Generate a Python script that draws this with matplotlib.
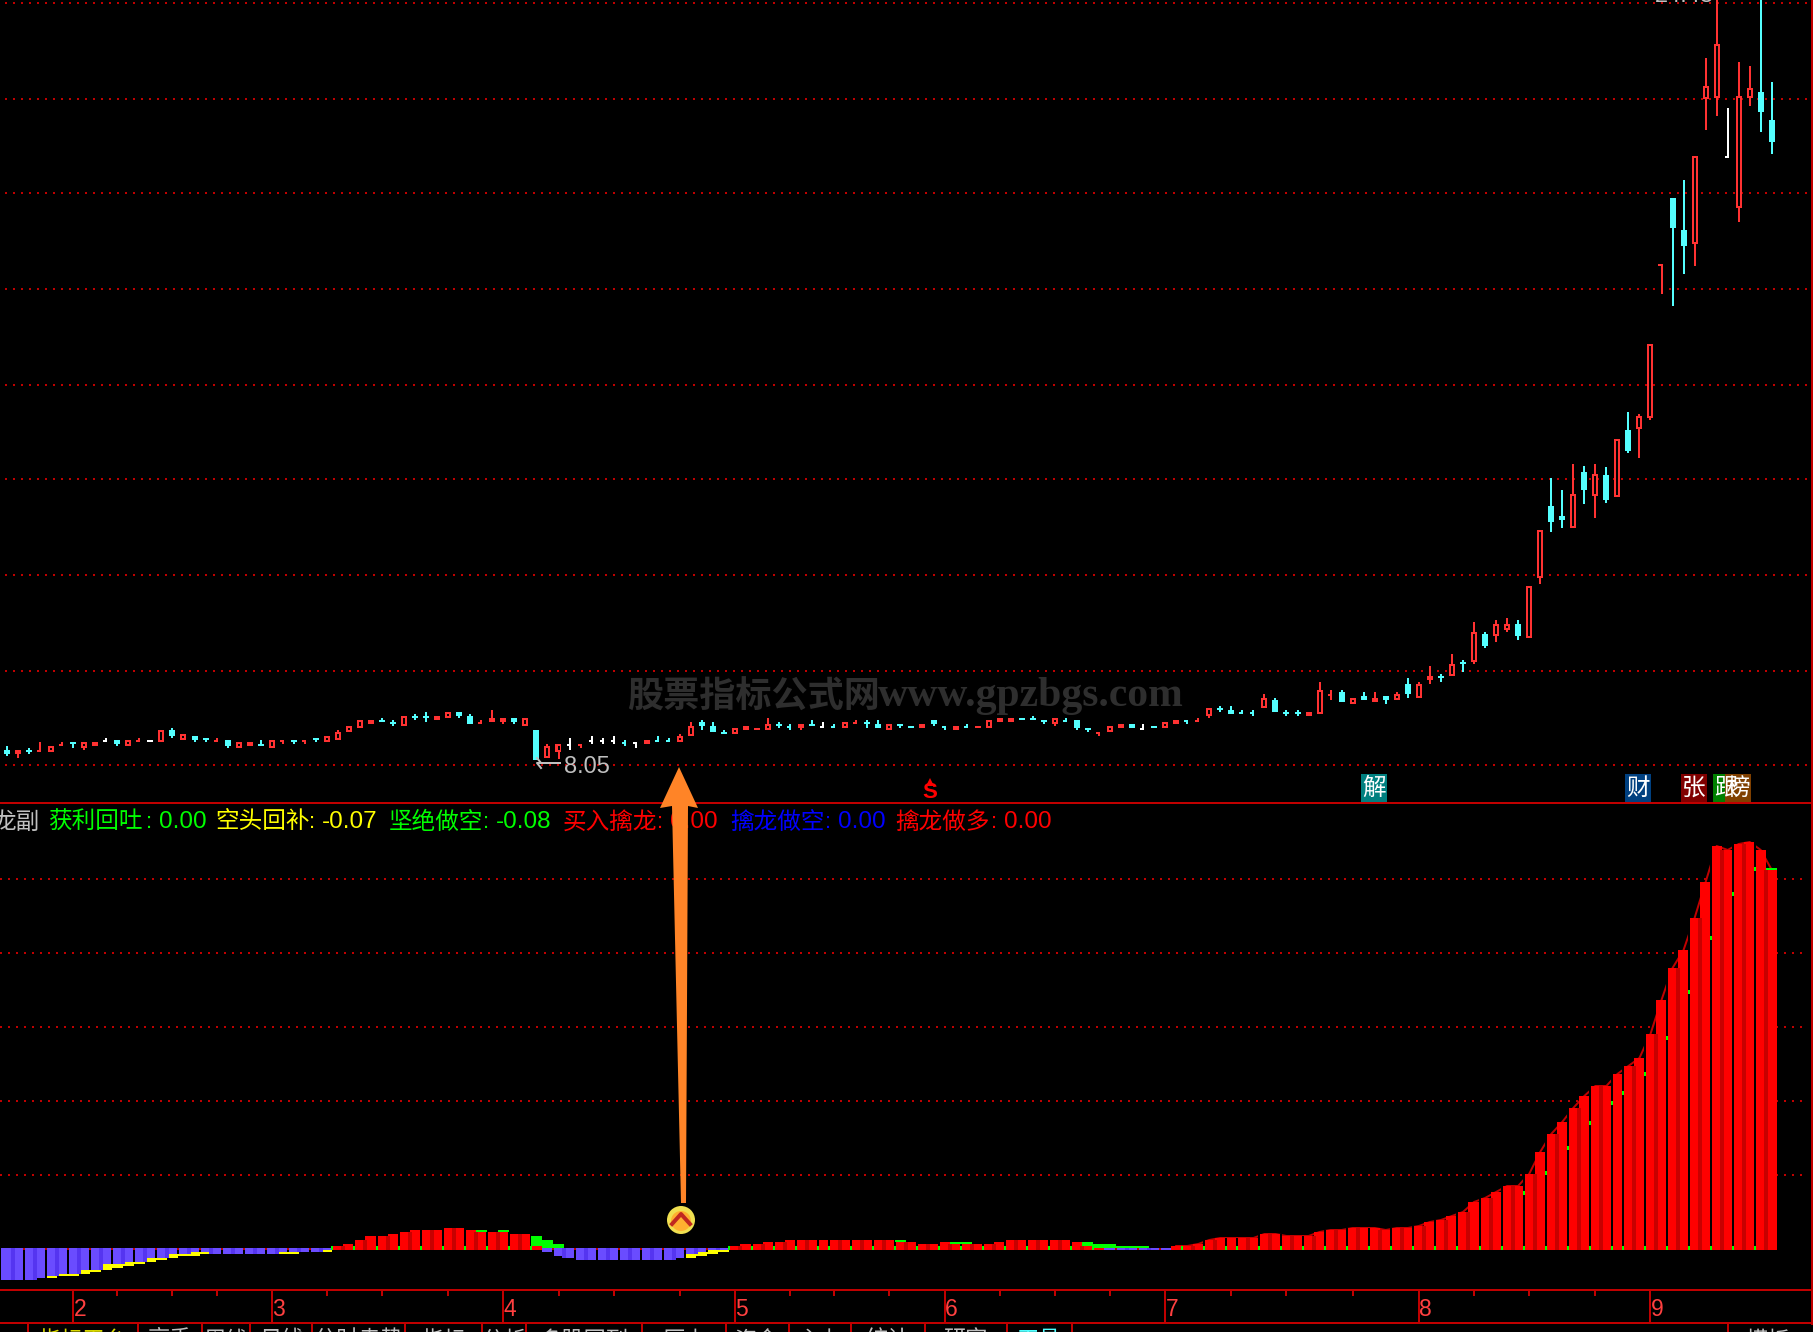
import matplotlib
matplotlib.use("Agg")
import matplotlib.pyplot as plt
from matplotlib.patches import Circle, Polygon, Rectangle

W, H = 1813, 1332
PX = 0.72  # one pixel in points at dpi 100

CJK = ["Noto Sans CJK SC", "DejaVu Sans"]
RED = "#ff3232"
CYAN = "#54ffff"
LINE_RED = "#c00000"

# daily candles
opens = [
    8.25, 8.17, 8.25, 8.21, 8.21, 8.33, 8.41, 8.29, 8.33, 8.45,
    8.45, 8.33, 8.41, 8.45, 8.41, 8.65, 8.45, 8.53, 8.49, 8.41,
    8.45, 8.29, 8.33, 8.37, 8.29, 8.41, 8.45, 8.41, 8.49, 8.41,
    8.45, 8.61, 8.69, 8.77, 8.85, 8.81, 8.73, 8.93, 8.93, 8.85,
    8.89, 9.01, 8.93, 8.77, 8.81, 8.81, 8.89, 8.73, 8.65, 8.09,
    8.21, 8.37, 8.33, 8.45, 8.45, 8.45, 8.41, 8.41, 8.37, 8.45,
    8.45, 8.41, 8.53, 8.81, 8.73, 8.61, 8.57, 8.65, 8.65, 8.65,
    8.77, 8.73, 8.69, 8.77, 8.73, 8.73, 8.69, 8.77, 8.81, 8.77,
    8.65, 8.77, 8.73, 8.69, 8.85, 8.73, 8.65, 8.73, 8.69, 8.69,
    8.81, 8.81, 8.89, 8.89, 8.85, 8.77, 8.85, 8.85, 8.69, 8.57,
    8.61, 8.69, 8.77, 8.69, 8.73, 8.69, 8.77, 8.85, 8.81, 8.93,
    9.09, 9.05, 9.01, 9.01, 9.09, 9.25, 9.01, 9.01, 8.93, 8.97,
    9.33, 9.41, 9.17, 9.33, 9.21, 9.33, 9.25, 9.57, 9.29, 9.65,
    9.73, 9.73, 10.01, 10.01, 10.57, 10.53, 10.65, 10.77, 10.49, 11.69,
    13.13, 12.93, 12.69, 13.81, 13.33, 13.75, 13.31, 14.65, 14.67, 14.89,
    17.93, 19.29, 18.65, 18.37, 21.27, 21.29, 20.13, 19.09, 21.29, 21.41,
    20.85,
]
closes = [
    8.17, 8.25, 8.21, 8.25, 8.33, 8.37, 8.37, 8.41, 8.41, 8.45,
    8.37, 8.45, 8.45, 8.45, 8.65, 8.53, 8.57, 8.45, 8.45, 8.45,
    8.33, 8.41, 8.41, 8.33, 8.45, 8.45, 8.41, 8.45, 8.45, 8.53,
    8.61, 8.73, 8.85, 8.85, 8.81, 8.77, 8.93, 8.89, 8.89, 8.93,
    9.01, 8.93, 8.77, 8.81, 8.89, 8.89, 8.81, 8.89, 8.05, 8.33,
    8.37, 8.37, 8.37, 8.45, 8.45, 8.45, 8.37, 8.41, 8.45, 8.41,
    8.41, 8.53, 8.73, 8.73, 8.61, 8.57, 8.69, 8.73, 8.69, 8.77,
    8.73, 8.69, 8.77, 8.73, 8.73, 8.69, 8.81, 8.81, 8.77, 8.69,
    8.77, 8.73, 8.69, 8.77, 8.77, 8.69, 8.73, 8.69, 8.73, 8.85,
    8.89, 8.89, 8.85, 8.85, 8.81, 8.89, 8.81, 8.69, 8.65, 8.61,
    8.73, 8.77, 8.69, 8.69, 8.69, 8.81, 8.85, 8.81, 8.85, 9.09,
    9.05, 8.97, 8.97, 8.97, 9.29, 9.01, 8.97, 8.97, 9.01, 9.45,
    9.37, 9.21, 9.29, 9.25, 9.29, 9.25, 9.37, 9.37, 9.57, 9.73,
    9.69, 9.97, 9.97, 10.61, 10.33, 10.77, 10.77, 10.53, 11.53, 12.65,
    12.81, 12.85, 13.37, 13.45, 13.77, 13.25, 14.47, 14.23, 14.93, 16.37,
    17.97, 18.69, 18.33, 20.13, 21.53, 22.37, 20.13, 21.33, 21.49, 21.01,
    20.41,
]
highs = [
    8.33, 8.25, 8.29, 8.41, 8.33, 8.41, 8.41, 8.41, 8.41, 8.49,
    8.45, 8.45, 8.49, 8.45, 8.65, 8.69, 8.57, 8.53, 8.49, 8.49,
    8.45, 8.41, 8.41, 8.45, 8.45, 8.45, 8.45, 8.45, 8.49, 8.53,
    8.65, 8.73, 8.85, 8.85, 8.89, 8.85, 8.93, 8.97, 9.01, 8.93,
    9.01, 9.01, 8.97, 8.85, 9.05, 8.89, 8.89, 8.89, 8.65, 8.37,
    8.37, 8.49, 8.37, 8.53, 8.49, 8.53, 8.45, 8.41, 8.45, 8.53,
    8.49, 8.57, 8.81, 8.85, 8.81, 8.65, 8.69, 8.73, 8.69, 8.89,
    8.81, 8.77, 8.77, 8.85, 8.81, 8.77, 8.81, 8.85, 8.85, 8.85,
    8.77, 8.77, 8.73, 8.77, 8.85, 8.73, 8.73, 8.77, 8.73, 8.85,
    8.89, 8.89, 8.89, 8.93, 8.85, 8.89, 8.89, 8.85, 8.69, 8.61,
    8.73, 8.77, 8.77, 8.77, 8.73, 8.81, 8.85, 8.85, 8.89, 9.09,
    9.13, 9.13, 9.05, 9.05, 9.37, 9.29, 9.05, 9.05, 9.01, 9.61,
    9.45, 9.45, 9.29, 9.41, 9.41, 9.33, 9.41, 9.69, 9.61, 9.93,
    9.77, 10.17, 10.05, 10.81, 10.61, 10.85, 10.89, 10.85, 11.53, 12.65,
    13.69, 13.45, 13.97, 13.93, 13.97, 13.91, 14.47, 15.01, 14.97, 16.37,
    17.97, 19.29, 19.65, 20.13, 22.09, 23.6, 21.09, 22.01, 21.93, 23.6,
    21.61,
]
lows = [
    8.13, 8.09, 8.17, 8.21, 8.21, 8.33, 8.29, 8.25, 8.33, 8.41,
    8.33, 8.33, 8.41, 8.41, 8.41, 8.49, 8.45, 8.41, 8.41, 8.41,
    8.29, 8.29, 8.33, 8.33, 8.29, 8.37, 8.37, 8.37, 8.41, 8.41,
    8.45, 8.61, 8.69, 8.77, 8.81, 8.73, 8.73, 8.85, 8.81, 8.85,
    8.89, 8.89, 8.77, 8.77, 8.81, 8.77, 8.77, 8.73, 8.05, 8.09,
    8.07, 8.25, 8.29, 8.37, 8.37, 8.37, 8.33, 8.29, 8.37, 8.41,
    8.41, 8.41, 8.53, 8.65, 8.61, 8.57, 8.57, 8.65, 8.65, 8.65,
    8.69, 8.65, 8.65, 8.73, 8.69, 8.69, 8.69, 8.77, 8.69, 8.69,
    8.65, 8.69, 8.69, 8.69, 8.73, 8.65, 8.65, 8.69, 8.69, 8.69,
    8.81, 8.81, 8.85, 8.85, 8.77, 8.73, 8.81, 8.65, 8.61, 8.53,
    8.61, 8.69, 8.69, 8.65, 8.69, 8.69, 8.77, 8.77, 8.81, 8.89,
    9.01, 8.97, 8.97, 8.93, 9.09, 9.01, 8.93, 8.93, 8.93, 8.97,
    9.25, 9.21, 9.17, 9.25, 9.21, 9.17, 9.25, 9.29, 9.29, 9.57,
    9.61, 9.73, 9.81, 9.97, 10.29, 10.41, 10.61, 10.45, 10.49, 11.57,
    12.61, 12.69, 12.69, 13.17, 12.89, 13.19, 13.31, 14.19, 14.09, 14.85,
    17.37, 17.13, 17.77, 17.93, 20.65, 20.93, 20.09, 18.81, 21.13, 20.61,
    20.17,
]
# candles the terminal draws with only the left half of the body
half_idx = [3, 5, 9, 12, 19, 25, 27, 43, 51, 52, 53, 54, 55, 56, 57, 59, 60, 71, 74, 75,
            77, 85, 87, 96, 99, 103, 107, 108, 112, 113, 120, 150, 156]
price_grid = [7.95, 9.83, 11.75, 13.67, 15.55, 17.47, 19.39, 21.27, 23.19]

# indicator panel
hist = [
    -.30, -.30, -.30, -.28, -.26, -.24, -.24, -.20, -.20, -.14,
    -.14, -.12, -.12, -.08, -.08, -.04, -.04, -.02, -.02, -.04,
    -.04, -.04, -.04, -.04, -.04, -.02, -.02, -.02, -.02, 0,
    .04, .06, .10, .14, .14, .16, .18, .20, .20, .20,
    .22, .22, .20, .18, .18, .18, .16, .16, .04, -.02,
    -.06, -.08, -.10, -.10, -.10, -.10, -.10, -.10, -.10, -.10,
    -.10, -.08, -.04, -.02, 0, 0, .04, .06, .06, .08,
    .08, .10, .10, .10, .10, .10, .10, .10, .10, .10,
    .10, .08, .08, .06, .06, .08, .06, .06, .06, .06,
    .08, .10, .10, .10, .10, .10, .10, .08, .04, .02,
    0, 0, 0, 0, 0, 0, .04, .04, .06, .10,
    .12, .12, .12, .12, .16, .16, .14, .14, .14, .18,
    .20, .20, .22, .22, .22, .20, .22, .22, .24, .28,
    .30, .34, .38, .48, .52, .58, .64, .64, .76, .98,
    1.16, 1.28, 1.42, 1.54, 1.64, 1.64, 1.76, 1.84, 1.92, 2.16,
    2.50, 2.82, 3.00, 3.32, 3.68, 4.04, 4.00, 4.06, 4.08, 4.00,
    3.80,
]
yellow_idx = [4, 5, 6, 7, 8, 9, 10, 11, 12, 13, 14, 15, 16, 17, 18, 19,
              25, 26, 27, 28, 29, 62, 63, 64, 65]
yellow_val = [-.28, -.26, -.26, -.24, -.22, -.20, -.18, -.16, -.14, -.12, -.10, -.08,
              -.06, -.06, -.04, -.04, -.04, -.04, -.02, -.02, -.02, -.08, -.06, -.04, -.02]
green_idx = [43, 45, 48, 49, 50, 81, 86, 87, 98, 99, 100, 101, 102, 103, 160]
green_low = [.18, .18, .04, .02, .02, .08, .06, .06, .04, .02, .02, .02, .02, .02, 3.80]
green_high = [.20, .20, .14, .10, .06, .10, .08, .08, .08, .06, .06, .04, .04, .04, 3.82]
green_dot_pos = [137.5, 139.5, 141.5, 143.5, 145.5, 146.5, 148.5, 150.5, 152.5, 154.5, 156.5, 158.5]
green_dot_val = [.57, .77, 1.02, 1.27, 1.47, 1.57, 1.76, 2.12, 2.58, 3.12, 3.56, 3.81]
hist_grid = [.75, 1.49, 2.23, 2.97, 3.71]
gap_idx = (list(range(1, 74, 2)) + list(range(74, 111, 2)) + list(range(111, 146, 2))
           + list(range(146, 159, 2)))

# time axis
month_idx = [6, 24, 45, 66, 85, 105, 128, 149]
month_labels = ["2", "3", "4", "5", "6", "7", "8", "9"]
week_idx = [10, 15, 19, 29, 34, 40, 50, 55, 61, 71, 75, 80, 90, 95, 100, 111, 116, 122, 133, 138, 144]

legend_names = ["获利回吐", "空头回补", "坚绝做空", "买入擒龙", "擒龙做空", "擒龙做多"]
legend_values = ["0.00", "-0.07", "-0.08", "0.00", "0.00", "0.00"]
legend_colors = ["#00ff00", "#ffff00", "#00ff00", "#ff0000", "#0000ff", "#ff0000"]
legend_x = [48, 215, 389, 563, 730, 895]
legend_val_x = [159, 322, 496, 670, 838, 1004]

badge_text = ["解", "财", "张", "跟", "榜"]
badge_color = ["#008080", "#004080", "#800000", "#008000", "#804000"]
badge_x = [1361, 1625, 1681, 1713, 1725]

tab_edges = [28, 138, 202, 250, 312, 405, 482, 526, 642, 726, 789, 851, 925, 1007, 1072, 1728]
tab_text = ["指标平台", "高手", "周线", "日线", "分时走势", "指标", "分析", "多股同列", "历史", "资金",
            "主力", "统计", "研究", "工具"]

n = len(opens)
X_LEFT = -7 / 11.03
X_RIGHT = (W - 7) / 11.03
BODY = 6 / 11.03
PIX_X = 1 / 11.03  # one pixel in candle units

plt.rcParams["font.family"] = CJK
plt.rcParams["savefig.facecolor"] = "black"
fig = plt.figure(figsize=(W / 100, H / 100), dpi=100, facecolor="black")

# price panel: 1 px = 0.02
ax = fig.add_axes([0, 1 - 803 / H, 1, 803 / H])
ax.set_xlim(X_LEFT, X_RIGHT)
ax.set_ylim(7.95 - 38 * 0.02, 7.95 + 765 * 0.02)
ax.set_axis_off()
ax.hlines(price_grid, X_LEFT + 5 * PIX_X, X_RIGHT - 6 * PIX_X, color=LINE_RED, lw=2 * PX,
          linestyles=(0, (1, 3)), zorder=1)

for i in range(n):
    o, c, hi, lo = opens[i], closes[i], highs[i], lows[i]
    col = RED if c > o else CYAN if c < o else "white"
    top, bot = max(o, c), min(o, c)
    if top == bot:
        bot = top - 0.04
    ax.vlines(i, lo, hi, color=col, lw=2 * PX, antialiased=False, zorder=3)
    if i in half_idx:
        ax.bar(i - 1 * PIX_X, top - bot, BODY * 2 / 3, bot, color=col, antialiased=False, zorder=4)
        continue
    ax.bar(i, top - bot, BODY, bot, color=col, antialiased=False, zorder=4)
    if col == RED and top - bot > 0.1:
        ax.bar(i, top - bot - 0.08, 2 * PIX_X, bot + 0.04, color="black", antialiased=False, zorder=5)

# indicator panel: 1 px = 0.01
ax2 = fig.add_axes([0, 1 - 1290 / H, 1, (1290 - 803) / H])
ax2.set_xlim(X_LEFT, X_RIGHT)
ax2.set_ylim(-0.40, 4.47)
ax2.set_axis_off()
ax2.hlines(hist_grid, X_LEFT, X_RIGHT - 6 * PIX_X, color=LINE_RED, lw=2 * PX,
           linestyles=(0, (1, 3)), zorder=1)

idx = list(range(n))
pos = [max(v, 0) for v in hist]
neg = [min(v, 0) - 0.02 for v in hist]
ax2.bar(yellow_idx, yellow_val, 1.0, color="#ffff00", antialiased=False, zorder=2)
ax2.plot(idx[106:], hist[106:], color="#c00000", lw=2 * PX, zorder=2)
ax2.bar(idx, pos, 1.0, color="#ff0000", antialiased=False, zorder=3)
neg_i = [i for i in idx if hist[i] <= 0]
ax2.bar(neg_i, [neg[i] for i in neg_i], 1.0, bottom=0.02, color="#6a4cff", antialiased=False, zorder=3)

gap_set = set(gap_idx)
for i in range(n - 1):
    v = min(hist[i], hist[i + 1])
    if i in gap_set:
        top = max(hist[i], hist[i + 1])
        if top > 0:
            ax2.vlines(i + 0.5, 0, top, color="black", lw=2 * PX, antialiased=False, zorder=4)
            ax2.vlines(i + 0.5, 0, 0.04, color="#00ff00", lw=2 * PX, antialiased=False, zorder=5)
        else:
            ax2.vlines(i + 0.5, v, 0.02, color="black", lw=2 * PX, antialiased=False, zorder=4)
            ax2.vlines(i + 0.5, 0.0, 0.02, color="#c00000", lw=2 * PX, antialiased=False, zorder=5)
    elif v > 0:
        ax2.bar(i + 0.5, v, 4 * PIX_X, color="#c80000", antialiased=False, zorder=4)
    elif hist[i] <= 0 and hist[i + 1] <= 0:
        ax2.bar(i + 0.5, v - 0.02, 4 * PIX_X, bottom=0.02, color="#5535f0", antialiased=False, zorder=4)

ax2.bar(green_idx, [b - a for a, b in zip(green_low, green_high)], 1.0, green_low,
        color="#00ff00", antialiased=False, zorder=6)
ax2.bar(green_dot_pos, 0.04, 2 * PIX_X, [v - 0.02 for v in green_dot_val],
        color="#00ff00", antialiased=False, zorder=6)

# time axis strip
ax3 = fig.add_axes([0, 1 - 1323 / H, 1, 33 / H])
ax3.set_xlim(X_LEFT, X_RIGHT)
ax3.set_ylim(1, 0)
ax3.set_axis_off()
ax3.vlines(month_idx, 0, 1, color=LINE_RED, lw=2 * PX)
ax3.vlines(week_idx, 0, 0.18, color=LINE_RED, lw=2 * PX)
for i, lab in zip(month_idx, month_labels):
    ax3.text(i + 0.05, 0.58, lab, color="#ff4040", fontsize=16.5, family="Liberation Sans",
             ha="left", va="center")

# overlay in image pixels: frame, legend and annotations
ov = fig.add_axes([0, 0, 1, 1], zorder=10)
ov.set_xlim(0, W)
ov.set_ylim(H, 0)
ov.set_axis_off()
ov.patch.set_alpha(0)

for y in (803, 1290, 1323):
    ov.plot([0, W], [y, y], color=LINE_RED, lw=2 * PX, solid_capstyle="butt")
ov.plot([1812, 1812], [0, 1323], color=LINE_RED, lw=3 * PX)

ov.text(-8, 822, "龙副", color="#c0c0c0", fontsize=17, va="center", ha="left", clip_on=True)
for name, val, col, x0, x1 in zip(legend_names, legend_values, legend_colors, legend_x, legend_val_x):
    ov.text(x0, 822, name, color=col, fontsize=17, va="center", ha="left")
    ov.text(x1 - 10, 822, ":", color=col, fontsize=16, family="Liberation Sans", va="center", ha="center")
    ov.text(x1, 822, val, color=col, fontsize=17.5, family="Liberation Sans", va="center", ha="left")

# watermark
ov.text(627, 697, "股票指标公式网", color="#2e2e2e", fontsize=26, fontweight="bold", va="center", ha="left", zorder=0)
ov.text(878, 696, "www.gpzbgs.com", color="#2e2e2e", fontsize=30, family="Liberation Serif",
        fontweight="bold", va="center", ha="left", zorder=0)

# price notes
ov.text(564, 767, "8.05", color="#c0c0c0", fontsize=17, family="Liberation Sans", va="center", ha="left")
ov.plot([560, 540], [763, 763], color="#c0c0c0", lw=2 * PX)
ov.plot([537, 541, 537, 541], [758, 763, 763, 768], color="#c0c0c0", lw=2 * PX)
ov.text(1655, 2, "24.48", color="#c0c0c0", fontsize=17, family="Liberation Sans", va="baseline", ha="left")

# buy marker S
ov.plot([930], [782], marker="^", ms=6, color="#ff0000", mew=0)
ov.text(930, 793, "S", color="#ff0000", fontsize=16, fontweight="bold", family="Liberation Sans",
        va="center", ha="center")

# signal badges
for txt, col, x in zip(badge_text, badge_color, badge_x):
    ov.add_patch(Rectangle((x, 774), 26, 28, color=col, lw=0))
    ov.text(x + 13, 788, txt, color="white", fontsize=17, va="center", ha="center")

# orange arrow and button
ov.add_patch(Polygon([(679, 767), (698, 808), (688, 806), (686, 1203), (681, 1203), (672, 806), (660, 808)],
                     closed=True, color="#ff8427", lw=0, zorder=8))
ov.add_patch(Circle((681, 1220), 14, color="#f0e050", lw=0, zorder=9))
ov.add_patch(Circle((681, 1221), 10, color="#ffb030", lw=0, zorder=9))
ov.plot([672, 681, 690], [1224, 1214, 1224], color="#c02820", lw=4 * PX, zorder=10)

# bottom tabs, cut by the edge of the image
for k, txt in enumerate(tab_text):
    x0, x1 = tab_edges[k], tab_edges[k + 1]
    if k == 14 - 1:
        x1 = 1072
    col = "#d8d800" if k == 0 else CYAN if k == 13 else "#c0c0c0"
    ov.text((x0 + x1) / 2, 1340, txt, color=col, fontsize=16, va="center", ha="center")
ov.vlines(tab_edges, 1323, H, color=LINE_RED, lw=2 * PX)
ov.text(1768, 1340, "模板", color="#c0c0c0", fontsize=16, va="center", ha="center")

fig.savefig("out.png", dpi=100, facecolor="black")
